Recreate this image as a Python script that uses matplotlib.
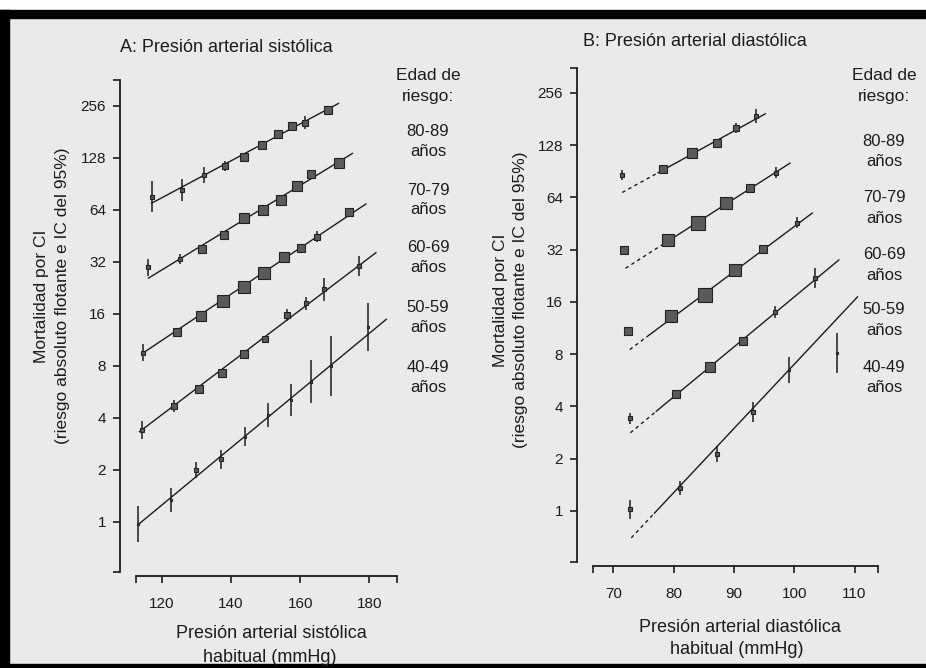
import numpy as np
import matplotlib
matplotlib.use("Agg")
import matplotlib.pyplot as plt
from matplotlib.patches import Rectangle
from matplotlib.ticker import FixedLocator, NullFormatter, FuncFormatter

plt.rcParams['font.family'] = ['Liberation Sans', 'DejaVu Sans']

# ---------------- data ----------------
age_groups = ['80-89', '70-79', '60-69', '50-59', '40-49']
y_ticks = [1, 2, 4, 8, 16, 32, 64, 128, 256]
sbp_ticks = [120, 140, 160, 180]
dbp_ticks = [70, 80, 90, 100, 110]

# Panel A: usual systolic BP (mmHg) per group (80-89 ... 40-49)
sbp_usual = [
    [117.0, 125.9, 132.2, 138.2, 143.6, 148.9, 153.7, 157.7, 161.5, 167.9],
    [115.9, 125.2, 131.7, 137.9, 143.7, 149.2, 154.5, 159.1, 163.2, 171.3],
    [114.6, 124.4, 131.2, 137.7, 143.7, 149.5, 155.4, 160.3, 165.0, 174.2],
    [114.1, 123.5, 130.6, 137.4, 143.7, 149.9, 156.1, 161.7, 167.0, 177.1],
    [113.0, 122.6, 130.0, 137.2, 143.9, 150.6, 157.2, 163.0, 168.9, 179.7],
]
sbp_mortality = [
    [76.4, 83.6, 102, 115, 130, 152, 176, 196, 205, 243],
    [29.8, 33.2, 37.9, 45.9, 57.3, 64, 73.1, 88, 104, 120],
    [9.55, 12.5, 15.6, 19.1, 23, 27.5, 34.1, 38.6, 44.9, 62.6],
    [3.41, 4.69, 5.9, 7.26, 9.38, 11.4, 15.8, 18.4, 22.2, 30.3],
    [0.97, 1.34, 2.0, 2.3, 3.12, 4.17, 5.09, 6.5, 8.0, 13.5],
]
# multiplicative 95% CI factor
sbp_ci = [
    [1.23, 1.155, 1.11, 1.07, 1.04, 1.04, 1.04, 1.04, 1.088, 1.03],
    [1.12, 1.07, 1.03, 1.03, 1.03, 1.03, 1.03, 1.03, 1.03, 1.03],
    [1.117, 1.04, 1.03, 1.03, 1.03, 1.03, 1.03, 1.03, 1.076, 1.03],
    [1.127, 1.08, 1.03, 1.03, 1.03, 1.03, 1.08, 1.09, 1.17, 1.14],
    [1.27, 1.17, 1.117, 1.13, 1.14, 1.17, 1.24, 1.33, 1.49, 1.38],
]
# relative amount of information (box size)
sbp_info = [
    [2, 2, 3, 4, 6, 7, 7, 6, 5, 7],
    [2, 3, 6, 7, 9, 9, 9, 8, 7, 8],
    [2, 6, 8, 10, 10, 10, 8, 7, 5, 7],
    [2, 4, 6, 7, 6, 5, 4, 3, 2, 2],
    [1, 1, 2, 2, 1, 1, 1, 1, 1, 1],
]
sbp_fit_x = [[117.0, 171.1], [116.1, 175.1], [114.4, 179.0], [113.5, 181.9], [113.0, 184.9]]
sbp_fit_y = [[70, 265], [25.8, 136], [9.47, 69.3], [3.33, 36.2], [0.96, 14.9]]

# Panel B: usual diastolic BP
dbp_usual = [
    [71.4, 78.3, 83.1, 87.2, 90.4, 93.6],
    [71.8, 79.05, 84.05, 88.6, 92.7, 97.0],
    [72.4, 79.6, 85.2, 90.2, 94.8, 100.4],
    [72.7, 80.45, 86.0, 91.55, 96.8, 103.5],
    [72.8, 81.0, 87.1, 93.1, 99.05, 107.1],
]
dbp_mortality = [
    [86.3, 93.3, 115, 131.6, 161, 189],
    [31.9, 36.4, 45.4, 59.3, 72.3, 89],
    [10.9, 13.3, 17.5, 24.4, 32.2, 45.8],
    [3.41, 4.69, 6.77, 9.57, 14.0, 21.9],
    [1.02, 1.35, 2.12, 3.72, 6.5, 8.1],
]
dbp_ci = [
    [1.07, 1.03, 1.03, 1.03, 1.07, 1.10],
    [1.03, 1.03, 1.03, 1.03, 1.03, 1.076],
    [1.03, 1.03, 1.03, 1.03, 1.03, 1.08],
    [1.073, 1.03, 1.03, 1.03, 1.08, 1.14],
    [1.14, 1.10, 1.11, 1.14, 1.19, 1.30],
]
dbp_info = [
    [3, 6, 8, 6, 4, 2],
    [7, 11, 13, 11, 7, 3],
    [6, 11, 13, 10, 6, 3],
    [3, 7, 8, 7, 3, 2],
    [2, 2, 2, 2, 1, 1],
]
dbp_fit_x = [[71.45, 95.2], [72.0, 99.3], [72.7, 103.0], [72.8, 107.4], [72.95, 110.5]]
dbp_fit_y = [[68.3, 194], [25.0, 100.8], [8.5, 52], [2.82, 27.9], [0.70, 17.1]]
dbp_dash_end = [77.4, 78.2, 76.0, 77.1, 76.8]

# ---------------- figure ----------------
W, H = 926, 668
BG = '#ebeaea'
INK = '#1c1c1c'
fig = plt.figure(figsize=(W / 100, H / 100), dpi=100)
fig.patch.set_facecolor(BG)

# scan frame
fig.patches.append(Rectangle((0, 1 - 10 / H), 1, 10 / H, transform=fig.transFigure,
                             color='white', zorder=0))
fig.patches.append(Rectangle((0, 1 - 18 / H), 1, 8 / H, transform=fig.transFigure,
                             color='black', zorder=0))
fig.patches.append(Rectangle((0, 0), 9 / W, 1 - 10 / H, transform=fig.transFigure,
                             color='black', zorder=0))
fig.patches.append(Rectangle((0, 0), 1, 4 / H, transform=fig.transFigure,
                             color='black', zorder=0))


def px_axes(left, top, right, bottom):
    return fig.add_axes([left / W, 1 - bottom / H, (right - left) / W, (bottom - top) / H])


def draw_panel(ax, xs, ys, cis, info, fit_x, fit_y, dash_end, xlim, ylim, xticks):
    ax.set_facecolor('none')
    ax.set_yscale('log', base=2)
    for i in range(len(xs)):
        fx = np.array(fit_x[i], dtype=float)
        fy = np.log2(np.array(fit_y[i], dtype=float))
        if dash_end is not None:
            xd = dash_end[i]
            yd = 2 ** np.interp(xd, fx, fy)
            ax.plot([fx[0], xd], [fit_y[i][0], yd], color=INK, lw=1.0,
                    ls=(0, (2.5, 2.5)), zorder=2)
            ax.plot([xd, fx[1]], [yd, fit_y[i][1]], color=INK, lw=1.0, zorder=2)
        else:
            ax.plot(fx, fit_y[i], color=INK, lw=1.0, zorder=2)
        x = np.array(xs[i]); y = np.array(ys[i]); c = np.array(cis[i])
        ax.vlines(x, y / c, y * c, color=INK, lw=1.1, zorder=3)
        for xi, yi, b in zip(x, y, info[i]):
            ax.plot(xi, yi, marker='s', ms=b * 0.72 + 1.0, mfc='#5a5a5a',
                    mec='#222222', mew=0.8, zorder=4)
    ax.set_xlim(*xlim)
    ax.set_ylim(*ylim)
    ax.set_yticks(y_ticks)
    ax.yaxis.set_major_formatter(FuncFormatter(lambda v, p: f"{int(round(v))}"))
    ax.yaxis.set_minor_locator(FixedLocator(list(ylim)))
    ax.yaxis.set_minor_formatter(NullFormatter())
    ax.set_xticks(xticks)
    ax.xaxis.set_minor_locator(FixedLocator(list(xlim)))
    ax.xaxis.set_minor_formatter(NullFormatter())
    for s in ('top', 'right'):
        ax.spines[s].set_visible(False)
    ax.spines['left'].set_position(('outward', 11.5))
    ax.spines['bottom'].set_position(('outward', 3))
    for s in ('left', 'bottom'):
        ax.spines[s].set_linewidth(1.3)
        ax.spines[s].set_color(INK)
    ax.tick_params(axis='both', which='both', direction='out', length=5, width=1.2,
                   color=INK, labelcolor=INK, labelsize=11)
    ax.tick_params(axis='y', which='both', pad=5)
    ax.tick_params(axis='x', which='both', pad=10)


axA = px_axes(136, 80, 397, 572)
draw_panel(axA, sbp_usual, sbp_mortality, sbp_ci, sbp_info, sbp_fit_x, sbp_fit_y,
           None, (112.5, 188.0), (0.513, 362), sbp_ticks)

axB = px_axes(593, 68, 878, 562)
draw_panel(axB, dbp_usual, dbp_mortality, dbp_ci, dbp_info, dbp_fit_x, dbp_fit_y,
           dbp_dash_end, (66.6, 113.9), (0.508, 356), dbp_ticks)


def ftext(x, y, s, **kw):
    kw.setdefault('color', INK)
    fig.text(x / W, 1 - y / H, s, **kw)


# titles
ftext(120, 48, 'A: Presión arterial sistólica', fontsize=13, ha='left', va='center')
ftext(583, 41, 'B: Presión arterial diastólica', fontsize=13, ha='left', va='center')

# y labels
for (x1, x2, yc) in ((42, 62, 296), (501, 521, 300)):
    ftext(x1, yc, 'Mortalidad por CI', fontsize=12.5, rotation=90, ha='center', va='center')
    ftext(x2, yc, '(riesgo absoluto flotante e IC del 95%)', fontsize=12.5,
          rotation=90, ha='center', va='center')

# x labels
ftext(271, 634, 'Presión arterial sistólica', fontsize=13, ha='center', va='center')
ftext(270, 657, 'habitual (mmHg)', fontsize=13, ha='center', va='center')
ftext(740, 627, 'Presión arterial diastólica', fontsize=13, ha='center', va='center')
ftext(737, 649, 'habitual (mmHg)', fontsize=13, ha='center', va='center')

# age-group legends
legend_rows_A = [132, 190, 248, 307, 368]
legend_rows_B = [142, 198, 255, 310, 367]
for xc, top_rows, rows in ((428, (75, 96), legend_rows_A), (884, (75, 96), legend_rows_B)):
    ftext(xc, top_rows[0], 'Edad de', fontsize=12.5, ha='center', va='center')
    ftext(xc, top_rows[1], 'riesgo:', fontsize=12.5, ha='center', va='center')
    for g, r in zip(age_groups, rows):
        ftext(xc, r, g, fontsize=12, ha='center', va='center')
        ftext(xc, r + 20, 'años', fontsize=12, ha='center', va='center')

fig.savefig('out.png', dpi=100, facecolor=fig.get_facecolor())
